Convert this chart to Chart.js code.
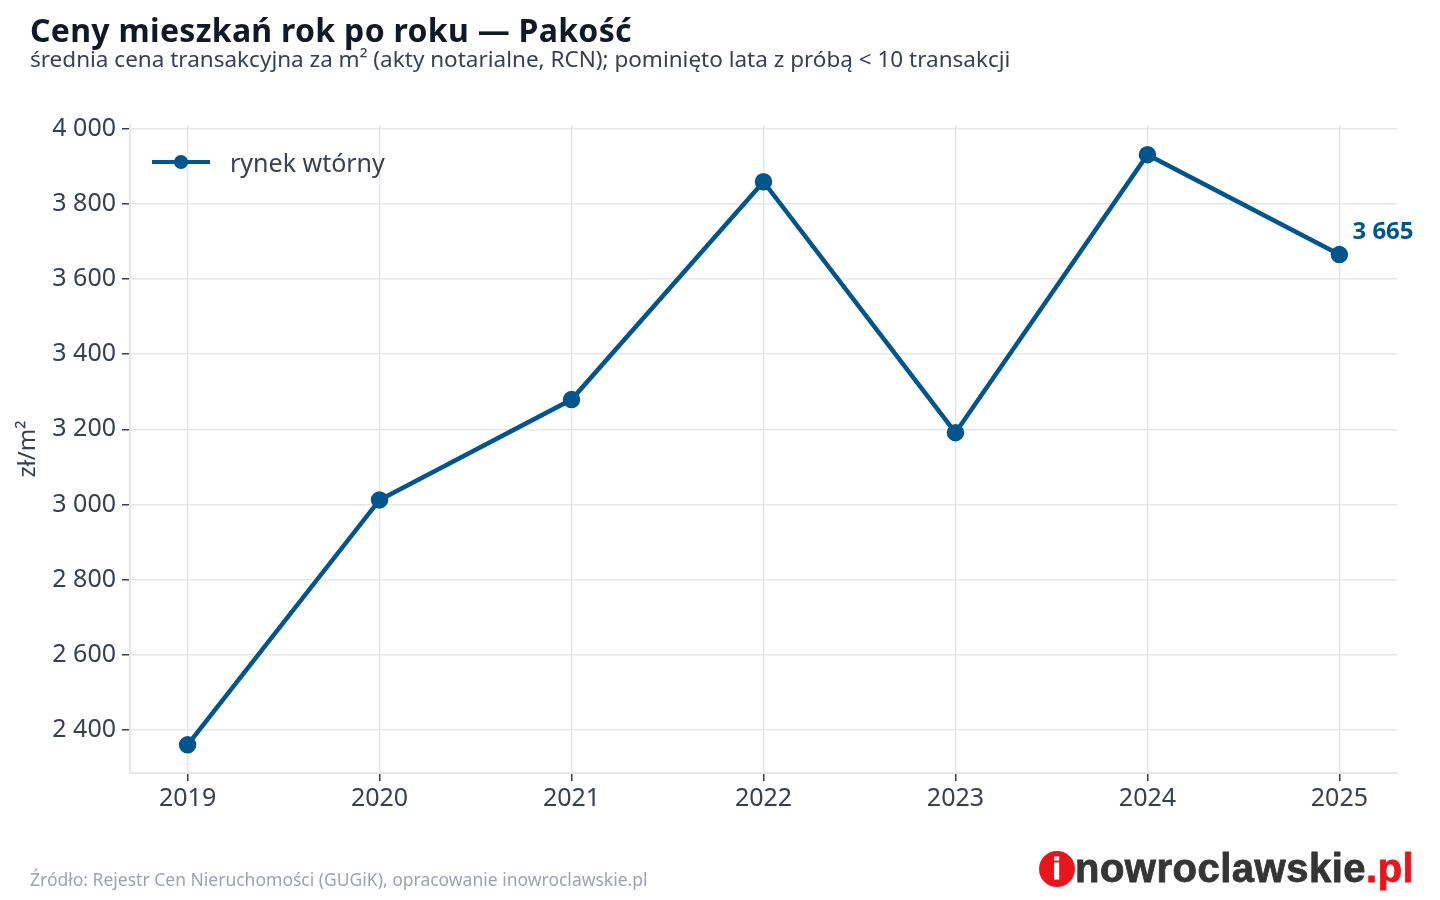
<!DOCTYPE html>
<html lang="pl">
<head>
<meta charset="utf-8">
<title>Ceny mieszkań rok po roku — Pakość</title>
<script src="https://cdn.jsdelivr.net/npm/chart.js@4.4.0/dist/chart.umd.min.js"></script>
<style>
  body { margin: 0; background: #fff; font-family: "Noto Sans", sans-serif; }
  #wrap { position: relative; width: 1440px; height: 900px; }
  #title { position: absolute; left: 30px; top: 8px; font-size: 32px; font-weight: 700; color: #111827; letter-spacing: 0.3px; }
  #subtitle { position: absolute; left: 30px; top: 45px; font-size: 22.5px; color: #374151; line-height: 28px; }
  #legend { position: absolute; left: 152px; top: 145px; font-size: 25px; color: #374151; display: flex; align-items: center; }
  #legend .swatch { position: relative; width: 58px; height: 4.5px; background: #00558c; margin-right: 20px; }
  #legend .swatch::after { content: ""; position: absolute; left: 22px; top: -5px; width: 14px; height: 14px; border-radius: 50%; background: #00558c; }
  #footer { position: absolute; left: 30px; top: 867px; font-size: 17.5px; color: #9ca3af; }
  #logo { position: absolute; left: 1039px; top: 846px; font-family: "Liberation Sans", Arial, sans-serif; font-weight: 700; font-size: 40px; color: #353535; display: flex; align-items: center; letter-spacing: 0.5px; -webkit-text-stroke: 0.8px #353535; }
  #logo .dot { width: 36px; height: 36px; border-radius: 50%; background: #e8161c; color: #fff; -webkit-text-stroke: 0.8px #fff; display: inline-flex; align-items: center; justify-content: center; font-size: 30px; margin-right: 0px; }
  #logo .pl { color: #e8161c; -webkit-text-stroke: 0.8px #e8161c; }
</style>
</head>
<body>
<div id="wrap">
  <canvas id="myChart" width="1440" height="900"></canvas>
  <div id="title">Ceny mieszkań rok po roku — Pakość</div>
  <div id="subtitle">średnia cena transakcyjna za m² (akty notarialne, RCN); pominięto lata z próbą &lt; 10 transakcji</div>
  <div id="legend"><span class="swatch"></span>rynek wtórny</div>
  <div id="footer">Źródło: Rejestr Cen Nieruchomości (GUGiK), opracowanie inowroclawskie.pl</div>
  <div id="logo"><span class="dot">i</span>nowroclawskie<span class="pl">.pl</span></div>
</div>
<script>
//Data
const years = [2019, 2020, 2021, 2022, 2023, 2024, 2025];
const secondary = [2360, 3012, 3279, 3859, 3191, 3931, 3665];
const yTicks = [2400, 2600, 2800, 3000, 3200, 3400, 3600, 3800, 4000];

const blue = "#00558c";
const grey = "#e5e7eb";
const textColor = "#374151";

function fmt(v) {
  return String(Math.round(v)).replace(/\B(?=(\d{3})+(?!\d))/g, " ");
}

//Label on last point
const lastLabel = {
  id: "lastLabel",
  afterDatasetsDraw(chart) {
    const meta = chart.getDatasetMeta(0);
    const p = meta.data[meta.data.length - 1];
    const c = chart.ctx;
    c.save();
    c.font = "bold 24px 'Noto Sans'";
    c.fillStyle = blue;
    c.textAlign = "left";
    c.textBaseline = "middle";
    c.fillText(fmt(secondary[secondary.length - 1]), p.x + 13, p.y - 22);
    c.restore();
  },
};

const ctx = document.getElementById("myChart").getContext("2d");
const myChart = new Chart(ctx, {
  type: "line",
  data: {
    datasets: [
      {
        label: "rynek wtórny",
        data: years.map((y, i) => ({ x: y, y: secondary[i] })),
        borderColor: blue,
        backgroundColor: blue,
        borderWidth: 4.5,
        pointRadius: 6.5,
        pointHoverRadius: 6.5,
        tension: 0,
      },
    ],
  },
  options: {
    responsive: false,
    animation: false,
    layout: { padding: { top: 125, right: 43, left: 0, bottom: 0 } },
    plugins: { legend: { display: false }, tooltip: { enabled: false } },
    scales: {
      x: {
        type: "linear",
        min: 2018.7,
        max: 2025.3,
        afterBuildTicks: (axis) => { axis.ticks = years.map((v) => ({ value: v })); },
        afterFit: (axis) => { axis.height = 127; },
        grid: { color: grey, tickColor: textColor, tickLength: 8, lineWidth: 1.5 },
        border: { color: grey, width: 2 },
        ticks: { color: textColor, font: { family: "Noto Sans", size: 25 }, padding: 3, callback: (v) => String(v) },
      },
      y: {
        min: 2285,
        max: 4010,
        afterBuildTicks: (axis) => { axis.ticks = yTicks.map((v) => ({ value: v })); },
        afterFit: (axis) => { axis.width = 130; },
        grid: { color: grey, tickColor: textColor, tickLength: 8, lineWidth: 1.5 },
        border: { color: grey, width: 2 },
        ticks: { color: textColor, font: { family: "Noto Sans", size: 25 }, padding: 6, callback: (v) => fmt(v) },
        title: { display: true, text: "zł/m²", color: textColor, font: { family: "Noto Sans", size: 24 }, padding: { top: 14, bottom: 0 } },
      },
    },
  },
  plugins: [lastLabel],
});
</script>
</body>
</html>
